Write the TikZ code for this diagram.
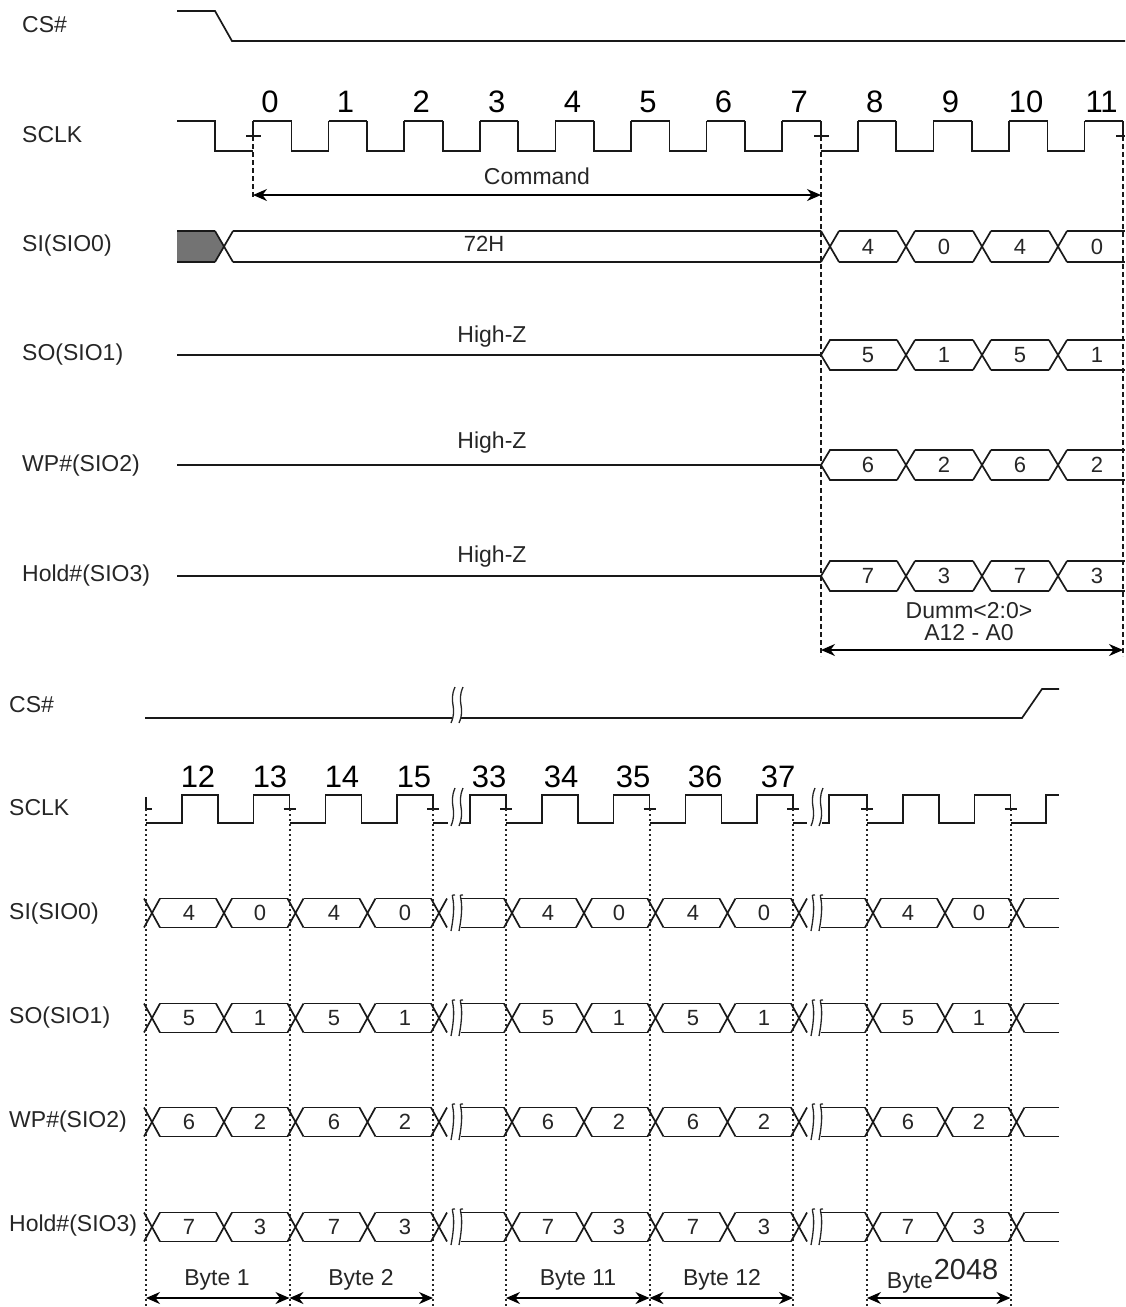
\documentclass[tikz,border=0pt]{standalone}
\usepackage{fontspec}
\setmainfont{Liberation Sans}
\usetikzlibrary{arrows.meta}
\tikzset{
 sig/.style={line width=1.7pt, draw=black!90},
 brkline/.style={line width=1.3pt, draw=black!85},
 markdash/.style={line width=1.4pt, draw=black!90, dash pattern=on 5pt off 3pt},
 markdot/.style={line width=2pt, draw=black!85, dash pattern=on 2pt off 3pt},
 dimarrow/.style={line width=1.6pt, draw=black, {Stealth[length=14pt,width=12pt]}-{Stealth[length=14pt,width=12pt]}},
 rowlab/.style={anchor=west, inner sep=0pt, font=\fontsize{23}{26}\selectfont, text=black!85},
 numlab/.style={inner sep=0pt, font=\fontsize{31}{34}\selectfont, text=black},
 txt/.style={inner sep=0pt, font=\fontsize{23}{26}\selectfont, text=black!85},
 celllab/.style={inner sep=0pt, font=\fontsize{22}{24}\selectfont, text=black!85},
}
\newcommand{\myX}[4]{\draw[sig] ({#1-#4},{#2})--({#1+#4},{#3}) ({#1-#4},{#3})--({#1+#4},{#2});}
\newcommand{\mycell}[5]{\draw[sig] ({#1+#5},{#3})--({#2-#5},{#3}) ({#1+#5},{#4})--({#2-#5},{#4});}
\newcommand{\mybrk}[3]{\draw[brkline] ({#1+2},{#2}) .. controls ({#1-5},{#2+0.45*(#3-#2)}) and ({#1+5},{#2+0.55*(#3-#2)}) .. ({#1-2},{#3});}
\newcommand{\toprow}[6]{%
 \pgfmathsetmacro\yt{#1-15}\pgfmathsetmacro\yb{#1+15}
 \draw[sig] (177,#1)--(821,#1)--(830,\yt)--(897,\yt);
 \draw[sig] (821,#1)--(830,\yb)--(897,\yb);
 \myX{906}{\yt}{\yb}{9}
 \mycell{906}{982}{\yt}{\yb}{9}
 \myX{982}{\yt}{\yb}{9}
 \mycell{982}{1058}{\yt}{\yb}{9}
 \myX{1058}{\yt}{\yb}{9}
 \draw[sig] (1067,\yt)--(1125,\yt) (1067,\yb)--(1125,\yb);
 \node[celllab] (#6a) at (868,#1) {#2};
 \node[celllab] (#6b) at (944,#1) {#3};
 \node[celllab] (#6c) at (1020,#1) {#4};
 \node[celllab] (#6d) at (1097,#1) {#5};
}
\newcommand{\botrow}[4]{%
 \pgfmathsetmacro\yt{#1-14.5}\pgfmathsetmacro\yb{#1+14.5}
 \foreach \cc in {152,224,295.5,367.5,439,512,584,655.5,727.5,799,873,945,1016.5} {\myX{\cc}{\yt}{\yb}{8}}
 \foreach \pa/\pb in {152/224,224/295.5,295.5/367.5,367.5/439,512/584,584/655.5,655.5/727.5,727.5/799,873/945,945/1016.5} {\mycell{\pa}{\pb}{\yt}{\yb}{8}}
 \mybrk{453}{#1-18}{#1+18}
 \mybrk{461}{#1-18}{#1+18}
 \mybrk{813}{#1-18}{#1+18}
 \mybrk{821}{#1-18}{#1+18}
 \draw[sig] (461,\yt)--(504,\yt) (461,\yb)--(504,\yb) (821,\yt)--(865,\yt) (821,\yb)--(865,\yb) (1024.5,\yt)--(1059,\yt) (1024.5,\yb)--(1059,\yb);
 \node[celllab] (#4a) at (189,#1) {#2};
 \node[celllab] (#4b) at (260,#1) {#3};
 \node[celllab] (#4c) at (334,#1) {#2};
 \node[celllab] (#4d) at (405,#1) {#3};
 \node[celllab] (#4e) at (548,#1) {#2};
 \node[celllab] (#4f) at (619,#1) {#3};
 \node[celllab] (#4g) at (693,#1) {#2};
 \node[celllab] (#4h) at (764,#1) {#3};
 \node[celllab] (#4i) at (908,#1) {#2};
 \node[celllab] (#4j) at (979,#1) {#3};
}
\begin{document}
\begin{tikzpicture}[x=1pt,y=-1pt]
\useasboundingbox (0,0) rectangle (1125,1307);
% ================= TOP =================
\node[rowlab] (tcs) at (22,25) {CS\#};
\node[rowlab] (tsclk) at (22,135) {SCLK};
\node[rowlab] (tsi) at (22,246) {SI(SIO0)};
\node[rowlab] (tso) at (22,355) {SO(SIO1)};
\node[rowlab] (twp) at (22,466) {WP\#(SIO2)};
\node[rowlab] (thold) at (22,576) {Hold\#(SIO3)};
% CS#
\draw[sig] (177,11)--(215,11)--(232,41)--(1125,41);
% SCLK
\draw[sig] (177,121)--(215,121)--(215,151)--(253,151);
\draw[sig] (253,136)--(253,121);
\foreach \n in {0,...,11}{
  \pgfmathsetmacro\r{253+75.6*\n}
  \pgfmathsetmacro\f{\r+38.5}
  \pgfmathsetmacro\nr{\r+75.6}
  \draw[sig] (\r,121)--(\f,121);
  \ifnum\n=11
    \draw[sig] (\f,121)--(\f,136);
  \else
    \ifnum\n=7
      \draw[sig] (\f,121)--(\f,136);
      \draw[sig] (\f,151)--(\nr,151)--(\nr,121);
    \else
      \draw[sig] (\f,121)--(\f,151)--(\nr,151)--(\nr,121);
    \fi
  \fi
  \node[numlab] (ck\n) at ({\r+17},102) {\n};
}
\draw[sig] (246,136)--(261,136) (814,136)--(829,136) (1116,136)--(1125,136);
\draw[markdash] (253,136)--(253,197);
\draw[markdash] (821,136)--(821,656);
\draw[markdash] (1123,136)--(1123,656);
\coordinate (cmdL) at (253,195);
\coordinate (cmdR) at (821,195);
\draw[dimarrow] (cmdL)--(cmdR);
\node[txt] (cmd) at (537,176) {Command};
% SI
\fill[black!55] (177,231)--(215,231)--(224,246.5)--(215,262)--(177,262)--cycle;
\draw[sig] (177,231)--(215,231) (177,262)--(215,262);
\myX{224}{231}{262}{9}
\draw[sig] (233,231)--(821,231) (233,262)--(821,262);
\myX{830}{231}{262}{9}
\mycell{830}{906}{231}{262}{9}
\myX{906}{231}{262}{9}
\mycell{906}{982}{231}{262}{9}
\myX{982}{231}{262}{9}
\mycell{982}{1058}{231}{262}{9}
\myX{1058}{231}{262}{9}
\draw[sig] (1067,231)--(1125,231) (1067,262)--(1125,262);
\node[celllab] (t72h) at (484,244) {72H};
\node[celllab] (sia) at (868,246.5) {4};
\node[celllab] (sib) at (944,246.5) {0};
\node[celllab] (sic) at (1020,246.5) {4};
\node[celllab] (sid) at (1097,246.5) {0};
% SO / WP / Hold
\toprow{355}{5}{1}{5}{1}{so}
\toprow{465}{6}{2}{6}{2}{wp}
\toprow{576}{7}{3}{7}{3}{ho}
\node[txt] (hz1) at (492,337) {High-Z};
\node[txt] (hz2) at (492,443) {High-Z};
\node[txt] (hz3) at (492,557) {High-Z};
\node[txt] (dum) at (969,611) {Dumm<2:0>};
\node[txt] (adr) at (969,633) {A12 - A0};
\coordinate (dumL) at (821,650);
\coordinate (dumR) at (1123,650);
\draw[dimarrow] (dumL)--(dumR);
% ================= BOTTOM =================
\node[rowlab] (bcs) at (9,705) {CS\#};
\node[rowlab] (bsclk) at (9,808) {SCLK};
\node[rowlab] (bsi) at (9,914) {SI(SIO0)};
\node[rowlab] (bso) at (9,1018) {SO(SIO1)};
\node[rowlab] (bwp) at (9,1122) {WP\#(SIO2)};
\node[rowlab] (bhold) at (9,1226) {Hold\#(SIO3)};
% CS#
\draw[sig] (145,718)--(452,718);
\draw[sig] (461,718)--(1022,718)--(1042,689)--(1059,689);
\mybrk{453}{687}{723}
\mybrk{461}{687}{723}
% SCLK
\foreach \d in {146,289.5,506,649.5,867}{
  \draw[sig] (\d,823)--({\d+36},823)--({\d+36},795)--({\d+72},795)--({\d+72},823)--({\d+107.5},823)--({\d+107.5},795)--({\d+143.5},795)--({\d+143.5},809);
}
\draw[sig] (146,797)--(146,809)--(152,809);
\draw[sig] (433,823)--(448,823);
\mybrk{453}{788}{826}
\mybrk{461}{788}{826}
\draw[sig] (461,823)--(470,823)--(470,795)--(506,795)--(506,809);
\draw[sig] (793,823)--(807,823);
\mybrk{813}{788}{826}
\mybrk{821}{788}{826}
\draw[sig] (822,823)--(829,823)--(829,795)--(867,795)--(867,809);
\draw[sig] (1010.5,823)--(1046,823)--(1046,795)--(1059,795);
\foreach \m in {289.5,433,506,649.5,793,867,1010.5}{
  \draw[sig] ({\m-6},809)--({\m+6},809);
}
\foreach \m in {146,289.5,433,506,649.5,793,867,1010.5}{
  \draw[markdot] (\m,809)--(\m,1307);
}
\foreach \lab/\xp in {12/198,13/270,14/342,15/414,33/489,34/561,35/633,36/705,37/778}{
  \node[numlab] (bk\lab) at (\xp,777) {\lab};
}
% buses
\botrow{913}{4}{0}{bsi}
\botrow{1018}{5}{1}{bso}
\botrow{1122}{6}{2}{bwp}
\botrow{1227}{7}{3}{bho}
% byte arrows
\coordinate (b1L) at (146,1298);
\coordinate (b1R) at (289.5,1298);
\coordinate (b2R) at (433,1298);
\coordinate (b11L) at (506,1298);
\coordinate (b11R) at (649.5,1298);
\coordinate (b12R) at (793,1298);
\coordinate (b2kL) at (867,1298);
\coordinate (b2kR) at (1010.5,1298);
\draw[dimarrow] (b1L)--(b1R);
\draw[dimarrow] (b1R)--(b2R);
\draw[dimarrow] (b11L)--(b11R);
\draw[dimarrow] (b11R)--(b12R);
\draw[dimarrow] (b2kL)--(b2kR);
\node[txt] (by1) at (217,1280) {Byte 1};
\node[txt] (by2) at (361,1280) {Byte 2};
\node[txt] (by11) at (578,1280) {Byte 11};
\node[txt] (by12) at (722,1280) {Byte 12};
\node[txt] (by2k) at (910,1283) {Byte};
\node[inner sep=0pt, font=\fontsize{29}{32}\selectfont, text=black!85] (n2k) at (966,1270) {2048};
\end{tikzpicture}
\end{document}
